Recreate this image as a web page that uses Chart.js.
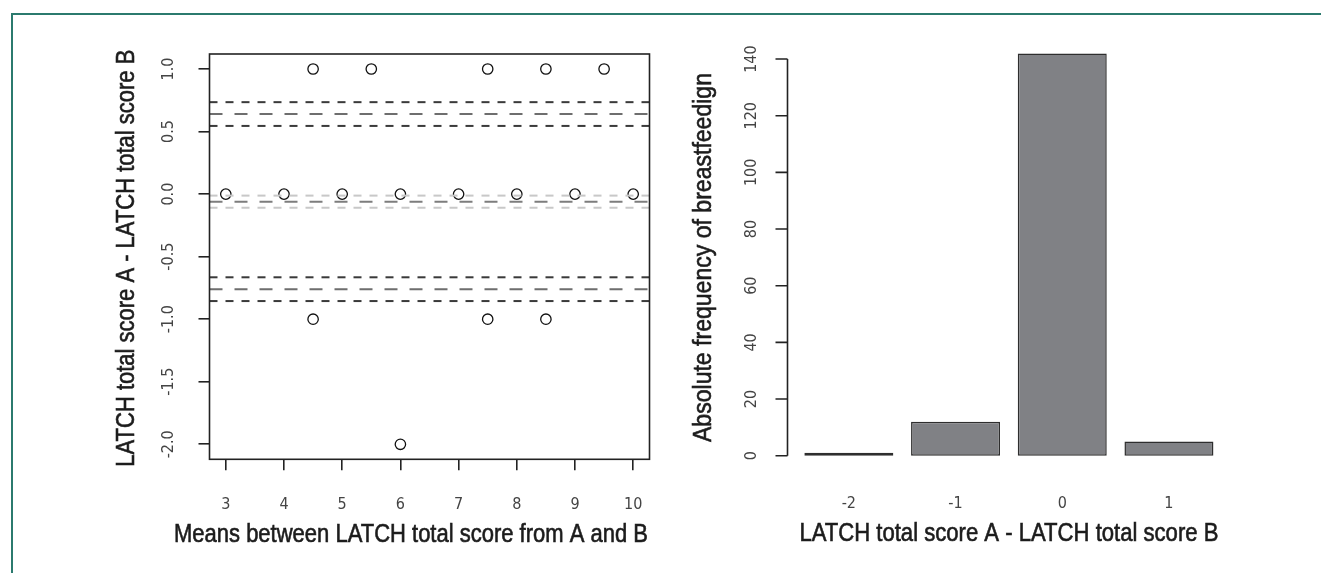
<!DOCTYPE html>
<html>
<head>
<meta charset="utf-8">
<script src="https://cdn.jsdelivr.net/npm/chart.js@4"></script>
<style>
  body { margin: 0; background: #fff; overflow: hidden; }
  #frame { position: absolute; left: 11px; top: 13px; width: 1330px; height: 580px;
           border-top: 2px solid #2b7a6e; border-left: 2px solid #2b7a6e; }
  .box { position: absolute; top: 0; height: 573px; }
</style>
</head>
<body>
<div id="frame"></div>
<div class="box" style="left:0;width:660px"><canvas id="blandAltman"></canvas></div>
<div class="box" style="left:660px;width:661px"><canvas id="diffBars"></canvas></div>
<script>
// left panel: Bland-Altman points
const meanAB = [4.5, 5.5, 7.5, 8.5, 9.5, 3, 4, 5, 6, 7, 8, 9, 10, 4.5, 7.5, 8.5, 6];
const diffAB = [1, 1, 1, 1, 1, 0, 0, 0, 0, 0, 0, 0, 0, -1, -1, -1, -2];
// mean difference and limits of agreement, with their CIs
const meanDiff = -0.061;
const meanDiffCI = [-0.012, -0.109];
const upperLoA = 0.640;
const upperLoACI = [0.735, 0.545];
const lowerLoA = -0.760;
const lowerLoACI = [-0.665, -0.855];
const xTicksLeft = [3, 4, 5, 6, 7, 8, 9, 10];
const yTicksLeft = [-2, -1.5, -1, -0.5, 0, 0.5, 1];

// right panel: frequency of differences
const diffCategories = ['-2', '-1', '0', '1'];
const diffCounts = [1, 12, 142, 5];
const yTicksRight = [0, 20, 40, 60, 80, 100, 120, 140];

const TICKFAMILY = "'DejaVu Sans Condensed', 'Liberation Sans', sans-serif";
const TITLEFAMILY = "'Liberation Sans', Arial, sans-serif";
const tickFont = { family: TICKFAMILY, size: 16 };

Chart.defaults.animation = false;
Chart.defaults.events = [];

// axis titles are squeezed to the narrow width of the original typeface
function drawTitle(ctx, text, x, y, maxW, vertical) {
  ctx.save();
  ctx.translate(x, y);
  if (vertical) ctx.rotate(-Math.PI / 2);
  ctx.font = '25px ' + TITLEFAMILY;
  ctx.fillStyle = '#1c1c1c';
  ctx.strokeStyle = '#1c1c1c';
  ctx.lineWidth = 0.6;
  ctx.textAlign = 'center';
  ctx.textBaseline = 'middle';
  ctx.fillText(text, 0, 0, maxW);
  ctx.strokeText(text, 0, 0, maxW);
  ctx.restore();
}

function fixSize(w, h) {
  return s => {
    if (w !== null) s.width = w;
    if (h !== null) s.height = h;
    s.paddingLeft = s.paddingRight = s.paddingTop = s.paddingBottom = 0;
  };
}

const leftPlugin = {
  id: 'leftDecor',
  afterDatasetsDraw(chart) {
    const { ctx, chartArea: a, scales: { y } } = chart;
    const lines = [
      [upperLoACI[0], '#3a3a3a', [8, 8]],
      [upperLoA, '#6e6e6e', [13, 12]],
      [upperLoACI[1], '#3a3a3a', [8, 8]],
      [meanDiffCI[0], '#c8c8c8', [8, 8]],
      [meanDiff, '#7d7d7d', [13, 12]],
      [meanDiffCI[1], '#c8c8c8', [8, 8]],
      [lowerLoACI[0], '#3a3a3a', [8, 8]],
      [lowerLoA, '#6e6e6e', [13, 12]],
      [lowerLoACI[1], '#3a3a3a', [8, 8]]
    ];
    ctx.save();
    ctx.lineWidth = 2;
    lines.forEach(([v, c, d]) => {
      const p = y.getPixelForValue(v);
      ctx.strokeStyle = c;
      ctx.setLineDash(d);
      ctx.beginPath();
      ctx.moveTo(a.left, p);
      ctx.lineTo(a.right, p);
      ctx.stroke();
    });
    ctx.restore();
  },
  afterDraw(chart) {
    const { ctx, chartArea: a } = chart;
    ctx.save();
    ctx.strokeStyle = '#222';
    ctx.lineWidth = 1.6;
    ctx.strokeRect(a.left, a.top, a.right - a.left, a.bottom - a.top);
    ctx.restore();
    drawTitle(ctx, 'Means between LATCH total score from A and B', (a.left + a.right) / 2 - 18.5, a.bottom + 76, 474, false);
    drawTitle(ctx, 'LATCH total score A - LATCH total score B', 127, (a.top + a.bottom) / 2 + 1.5, 417, true);
  }
};

new Chart(document.getElementById('blandAltman'), {
  type: 'scatter',
  data: {
    datasets: [{
      data: meanAB.map((m, i) => ({ x: m, y: diffAB[i] })),
      pointStyle: 'circle',
      pointRadius: 5.2,
      backgroundColor: 'rgba(0,0,0,0)',
      borderColor: '#111',
      borderWidth: 1.3
    }]
  },
  options: {
    responsive: true,
    maintainAspectRatio: false,
    layout: { padding: { top: 54, right: 10.5, bottom: 0, left: 0 } },
    plugins: { legend: { display: false }, tooltip: { enabled: false } },
    scales: {
      x: {
        type: 'linear', min: 2.72, max: 10.28,
        afterBuildTicks: s => { s.ticks = xTicksLeft.map(v => ({ value: v })); },
        afterFit: fixSize(null, 113.7),
        border: { display: false },
        grid: { drawOnChartArea: false, drawTicks: true, tickLength: 11, color: '#222', lineWidth: 1.6 },
        ticks: { font: tickFont, color: '#444', padding: 25, maxRotation: 0 }
      },
      y: {
        type: 'linear', min: -2.12, max: 1.12,
        afterBuildTicks: s => { s.ticks = yTicksLeft.map(v => ({ value: v })); },
        afterFit: fixSize(209.5, null),
        border: { display: false },
        grid: { drawOnChartArea: false, drawTicks: true, tickLength: 11, color: '#222', lineWidth: 1.6 },
        ticks: { font: tickFont, color: '#444', padding: 16, minRotation: 90, maxRotation: 90,
                 crossAlign: 'center', callback: v => v.toFixed(1) }
      }
    }
  },
  plugins: [leftPlugin]
});

const rightPlugin = {
  id: 'rightDecor',
  afterDraw(chart) {
    const { ctx, chartArea: a, scales: { y } } = chart;
    const x0 = a.left - 8;
    ctx.save();
    ctx.strokeStyle = '#222';
    ctx.lineWidth = 1.6;
    ctx.beginPath();
    ctx.moveTo(x0, y.getPixelForValue(yTicksRight[0]));
    ctx.lineTo(x0, y.getPixelForValue(yTicksRight[yTicksRight.length - 1]));
    yTicksRight.forEach(v => {
      const p = y.getPixelForValue(v);
      ctx.moveTo(x0, p);
      ctx.lineTo(x0 - 12, p);
    });
    ctx.stroke();
    ctx.restore();
    drawTitle(ctx, 'LATCH total score A - LATCH total score B', (a.left + a.right) / 2, a.bottom + 62, 419, false);
    drawTitle(ctx, 'Absolute frequency of breastfeedign', 44, 257.5, 369, true);
  }
};

new Chart(document.getElementById('diffBars'), {
  type: 'bar',
  data: {
    labels: diffCategories,
    datasets: [{
      data: diffCounts,
      backgroundColor: '#808185',
      borderColor: '#2e2e2e',
      borderWidth: 1.5,
      borderSkipped: false,
      barPercentage: 0.834,
      categoryPercentage: 1.0
    }]
  },
  options: {
    responsive: true,
    maintainAspectRatio: false,
    layout: { padding: { top: 37.3, right: 98.7, bottom: 0, left: 0 } },
    plugins: { legend: { display: false }, tooltip: { enabled: false } },
    scales: {
      x: {
        afterFit: fixSize(null, 101.2),
        border: { display: false },
        grid: { display: false, drawTicks: false },
        ticks: { font: tickFont, color: '#444', padding: 22.6 }
      },
      y: {
        min: -5.68, max: 147.68,
        afterBuildTicks: s => { s.ticks = yTicksRight.map(v => ({ value: v })); },
        afterFit: fixSize(135.5, null),
        border: { display: false },
        grid: { display: false, drawTicks: false },
        ticks: { font: tickFont, color: '#444', padding: 30, minRotation: 90, maxRotation: 90,
                 crossAlign: 'center' }
      }
    }
  },
  plugins: [rightPlugin]
});
</script>
</body>
</html>
